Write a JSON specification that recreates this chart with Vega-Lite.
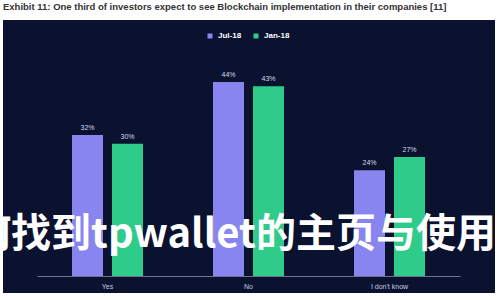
{
  "$schema": "https://vega.github.io/schema/vega-lite/v6.json",
  "width": 492,
  "height": 273,
  "autosize": "none",
  "padding": {"left": 3, "top": 20, "right": 5, "bottom": 7},
  "background": "white",
  "view": {"fill": "#0a1230", "stroke": null},
  "title": {
    "text": "Exhibit 11: One third of investors expect to see Blockchain implementation in their companies [11]",
    "anchor": "start",
    "frame": "group",
    "font": "Liberation Sans",
    "fontSize": 9.5,
    "fontWeight": "bold",
    "color": "#333333",
    "offset": 9
  },
  "datasets": {
    "survey": [
      {"answer": "Yes", "period": "Jul-18", "pct": 0.32},
      {"answer": "Yes", "period": "Jan-18", "pct": 0.30},
      {"answer": "No", "period": "Jul-18", "pct": 0.44},
      {"answer": "No", "period": "Jan-18", "pct": 0.43},
      {"answer": "I don't know", "period": "Jul-18", "pct": 0.24},
      {"answer": "I don't know", "period": "Jan-18", "pct": 0.27}
    ],
    "mark": [
      {"answer": "No", "pct": 0.093, "label": "何找到tpwallet的主页与使用"}
    ]
  },
  "layer": [
    {
      "data": {"name": "survey"},
      "mark": {"type": "bar"},
      "encoding": {
        "x": {
          "field": "answer", "type": "nominal",
          "sort": ["Yes", "No", "I don't know"],
          "scale": {"range": [34, 457], "paddingInner": 0, "paddingOuter": 0},
          "axis": {
            "title": null, "orient": "bottom", "offset": -17, "labelAngle": 0,
            "ticks": false, "domainColor": "#6b7390", "domainWidth": 1,
            "labelColor": "#c8cce0", "labelFontSize": 7, "labelFont": "Liberation Sans",
            "labelPadding": 6
          }
        },
        "xOffset": {
          "field": "period", "type": "nominal", "sort": ["Jul-18", "Jan-18"],
          "scale": {"paddingInner": 0.225, "paddingOuter": 0.875}
        },
        "y": {
          "field": "pct", "type": "quantitative",
          "scale": {"domain": [0, 0.5], "range": [256, 35.5]},
          "axis": null
        },
        "color": {
          "field": "period", "type": "nominal", "sort": ["Jul-18", "Jan-18"],
          "scale": {"domain": ["Jul-18", "Jan-18"], "range": ["#8885f0", "#2fcb8b"]},
          "legend": {
            "title": null, "orient": "none", "direction": "horizontal",
            "legendX": 203, "legendY": 12,
            "symbolType": "square", "symbolSize": 25,
            "labelColor": "#ffffff", "labelFontSize": 8, "labelFontWeight": "bold",
            "labelFont": "Liberation Sans", "columnPadding": 10
          }
        }
      }
    },
    {
      "data": {"name": "survey"},
      "mark": {"type": "text", "dy": -7, "fontSize": 7, "font": "Liberation Sans", "color": "#d6d9ea"},
      "encoding": {
        "x": {"field": "answer", "type": "nominal", "sort": ["Yes", "No", "I don't know"]},
        "xOffset": {"field": "period", "type": "nominal", "sort": ["Jul-18", "Jan-18"]},
        "y": {"field": "pct", "type": "quantitative"},
        "text": {"field": "pct", "type": "quantitative", "format": ".0%"}
      }
    },
    {
      "data": {"name": "mark"},
      "mark": {"type": "text", "dx": -15, "fontSize": 40, "font": "Noto Sans CJK SC", "fontWeight": "bold", "color": "#ffffff", "baseline": "middle"},
      "encoding": {
        "x": {"field": "answer", "type": "nominal", "sort": ["Yes", "No", "I don't know"]},
        "y": {"field": "pct", "type": "quantitative"},
        "text": {"field": "label", "type": "nominal"}
      }
    }
  ]
}
